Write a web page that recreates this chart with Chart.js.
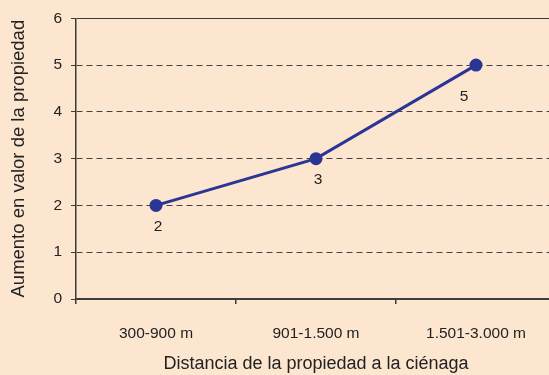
<!DOCTYPE html>
<html>
<head>
<meta charset="utf-8">
<script src="https://cdn.jsdelivr.net/npm/chart.js@4"></script>
<style>
  html, body { margin: 0; padding: 0; background: #fde6d0; overflow: hidden; }
  #chart { display: block; }
</style>
</head>
<body>
<canvas id="chart" width="549" height="375"></canvas>
<script>
// Chart data
const categories = ['300-900 m', '901-1.500 m', '1.501-3.000 m'];
const values = [2, 3, 5];
const yTicks = [0, 1, 2, 3, 4, 5, 6];

const lineColor = '#2b3595';
const textColor = '#222222';
const tickFont = { family: 'Liberation Sans, Arial, sans-serif', size: 15.5 };
const titleFont = { family: 'Liberation Sans, Arial, sans-serif', size: 18 };

// the plot runs a little past the right edge of the picture
const extendRight = {
    id: 'extendRight',
    afterLayout(chart) {
        const x = chart.scales.x;
        const ext = chart.width + 7 - x.right;
        x.right += ext;
        x.width += ext;
        chart.chartArea.right += ext;
        chart.chartArea.width += ext;
        x.configure();
    }
};

// value labels drawn next to each point
const valueLabels = {
    id: 'valueLabels',
    afterDatasetsDraw(chart) {
        const ctx = chart.ctx;
        const meta = chart.getDatasetMeta(0);
        const offsets = [[2, 21], [2, 21], [-12, 32]];
        ctx.save();
        ctx.font = `${tickFont.size}px ${tickFont.family}`;
        ctx.fillStyle = textColor;
        ctx.textAlign = 'center';
        ctx.textBaseline = 'middle';
        meta.data.forEach((pt, i) => {
            const [dx, dy] = offsets[i] || [0, 20];
            ctx.fillText(String(values[i]), pt.x + dx, pt.y + dy);
        });
        ctx.restore();
    }
};

new Chart(document.getElementById('chart'), {
    type: 'line',
    data: {
        labels: categories,
        datasets: [{
            data: values,
            borderColor: lineColor,
            backgroundColor: lineColor,
            borderWidth: 3,
            pointRadius: 5,
            pointHoverRadius: 5,
            tension: 0,
            fill: false
        }]
    },
    options: {
        responsive: false,
        animation: false,
        layout: { padding: { top: 18, right: 0, left: 0, bottom: 0 } },
        plugins: {
            legend: { display: false },
            tooltip: { enabled: false }
        },
        scales: {
            x: {
                offset: true,
                afterFit(scale) { scale.height = 76; },
                grid: {
                    drawOnChartArea: false,
                    tickLength: 5,
                    color: '#3a3a3a',
                    lineWidth: 1.5,
                    offset: true
                },
                border: { color: '#3a3a3a', width: 1.5 },
                ticks: { color: textColor, font: tickFont, padding: 20 },
                title: {
                    display: true,
                    text: 'Distancia de la propiedad a la ciénaga',
                    color: textColor,
                    font: titleFont,
                    padding: { top: 0, bottom: 0 }
                }
            },
            y: {
                min: 0,
                max: 6,
                afterFit(scale) { scale.width = 76; },
                afterBuildTicks(scale) { scale.ticks = yTicks.map(v => ({ value: v })); },
                grid: {
                    color: ctx => ctx.tick && ctx.tick.value === 6 ? '#3a3a3a' : '#444444',
                    lineWidth: 1,
                    tickLength: 5,
                    tickColor: '#3a3a3a'
                },
                border: {
                    color: '#3a3a3a',
                    width: 1.5,
                    dash: ctx => ctx.tick && ctx.tick.value > 0 && ctx.tick.value < 6 ? [6, 4] : []
                },
                ticks: { color: textColor, font: tickFont, padding: 9 },
                title: {
                    display: true,
                    text: 'Aumento en valor de la propiedad',
                    color: textColor,
                    font: { family: titleFont.family, size: 18.5 },
                    padding: { top: 8, bottom: 0 }
                }
            }
        }
    },
    plugins: [extendRight, valueLabels]
});
</script>
</body>
</html>
